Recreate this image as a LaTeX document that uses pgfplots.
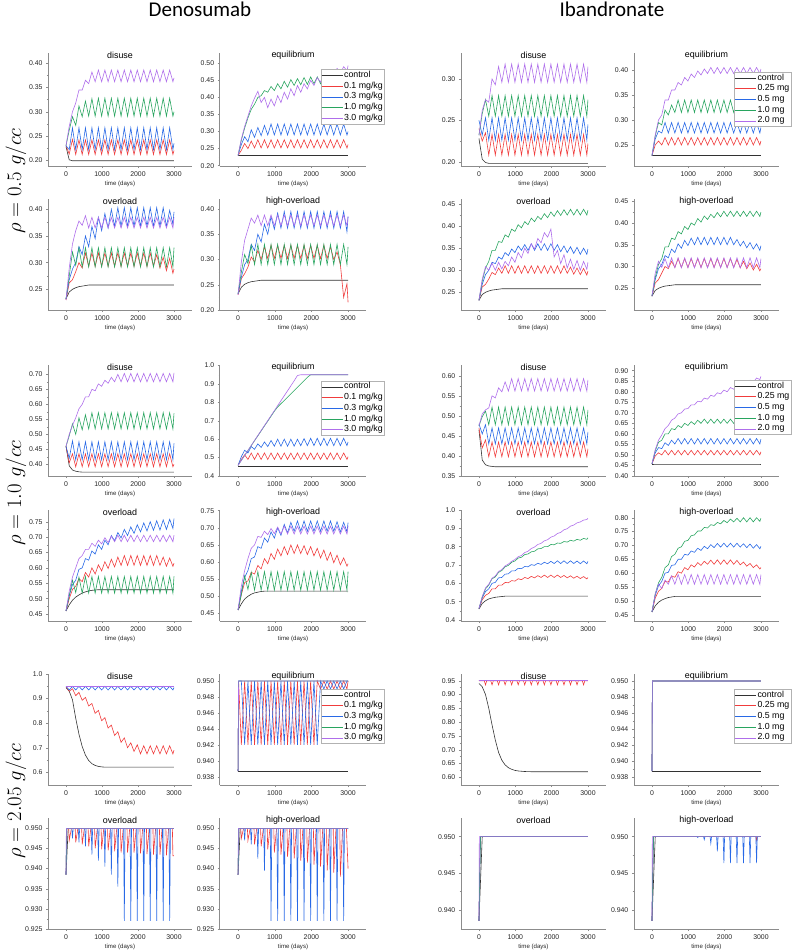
\documentclass[border=0pt]{standalone}
\usepackage{fontspec}
\setmainfont{Liberation Sans}
\newfontfamily\carlito{Carlito}
\usepackage{pgfplots}
\usepackage{pgfplotstable}
\pgfplotsset{compat=1.18}
\definecolor{cC}{RGB}{50,50,50}
\definecolor{cR}{RGB}{240,60,60}
\definecolor{cB}{RGB}{40,105,230}
\definecolor{cG}{RGB}{40,165,95}
\definecolor{cP}{RGB}{175,110,235}
\newcommand{\LF}{\fontsize{8.8}{10}\selectfont}
\pgfplotsset{
  every axis plot post/.append style={legend image code/.code={\draw[##1,line width=0.6pt] (0pt,0pt)--(21pt,0pt);}},
  sub/.style={
    scale only axis, height=111pt,
    xmin=-500, xmax=3500, xtick={0,1000,2000,3000},
    minor x tick num=1, minor y tick num=1,
    axis x line=bottom, axis y line=left,
    axis line style={-, black!45, line width=0.5pt},
    tick style={black!45, line width=0.4pt},
    major tick length=2pt, minor tick length=1.2pt, tick align=outside,
    tick label style={font=\fontsize{6.9}{8}\selectfont, text=black!85},
    /pgf/number format/assume math mode=true,
    scaled x ticks=false, scaled y ticks=false,
    x tick label style={/pgf/number format/1000 sep={}},
    y tick label style={/pgf/number format/fixed, /pgf/number format/fixed zerofill, /pgf/number format/precision=2},
    xlabel={time (days)},
    xlabel style={font=\fontsize{6.1}{7}\selectfont, at={(axis description cs:0.5,0)}, anchor=center, yshift=-17.5pt, text=black!85},
    every axis title/.style={at={(0.5,1)}, anchor=center, yshift=-2pt, font=\fontsize{8.9}{10}\selectfont},
    every axis plot/.append style={line width=0.6pt, mark=none},
  },
  prec/.style={y tick label style={/pgf/number format/precision=#1}},
  leg/.style 2 args={
    every axis legend/.style={at={(#1,#2)}, anchor=north west, draw=black!30, fill=white,
      font=\LF, inner sep=0.5pt,
      nodes={inner sep=1.2pt, text height=6.3pt, text depth=2pt}},
    legend cell align=left,
  },
}
\newcommand{\fiveplots}[1]{%
 \addplot[cC] table[x=t,y=c]{#1};
 \addplot[cR] table[x=t,y=a]{#1};
 \addplot[cB] table[x=t,y=b]{#1};
 \addplot[cG] table[x=t,y=g]{#1};
 \addplot[cP] table[x=t,y=p]{#1};}
\newcommand{\legD}{\legend{\LF control,\LF 0.1 mg/kg,\LF 0.3 mg/kg,\LF 1.0 mg/kg,\LF 3.0 mg/kg}}
\newcommand{\legI}{\legend{\LF control,\LF 0.25 mg,\LF 0.5 mg,\LF 1.0 mg,\LF 2.0 mg}}

% ---------- rho = 0.5 ----------
\pgfplotstableread{
t c a b g p
0 0.228 0.230 0.230 0.230 0.230
90 0.201 0.213 0.222 0.262 0.270
180 0.199 0.243 0.267 0.290 0.300
270 0.199 0.212 0.222 0.272 0.318
360 0.199 0.242 0.267 0.312 0.345
450 0.199 0.212 0.222 0.290 0.345
540 0.199 0.242 0.267 0.322 0.365
630 0.199 0.212 0.222 0.291 0.358
720 0.199 0.242 0.267 0.327 0.382
810 0.199 0.212 0.222 0.291 0.362
900 0.199 0.242 0.267 0.328 0.386
990 0.199 0.212 0.222 0.291 0.362
1080 0.199 0.242 0.267 0.328 0.386
1170 0.199 0.212 0.222 0.291 0.362
1260 0.199 0.242 0.267 0.328 0.386
1350 0.199 0.212 0.222 0.291 0.362
1440 0.199 0.242 0.267 0.328 0.386
1530 0.199 0.212 0.222 0.291 0.362
1620 0.199 0.242 0.267 0.328 0.386
1710 0.199 0.212 0.222 0.291 0.362
1800 0.199 0.242 0.267 0.328 0.386
1890 0.199 0.212 0.222 0.291 0.362
1980 0.199 0.242 0.267 0.328 0.386
2070 0.199 0.212 0.222 0.291 0.362
2160 0.199 0.242 0.267 0.328 0.386
2250 0.199 0.212 0.222 0.291 0.362
2340 0.199 0.242 0.267 0.328 0.386
2430 0.199 0.212 0.222 0.291 0.362
2520 0.199 0.242 0.267 0.328 0.386
2610 0.199 0.212 0.222 0.291 0.362
2700 0.199 0.242 0.267 0.328 0.386
2790 0.199 0.212 0.222 0.291 0.362
2880 0.199 0.242 0.267 0.328 0.386
2970 0.199 0.212 0.222 0.291 0.362
3000 0.199 0.220 0.235 0.300 0.370
}\tDa
\pgfplotstableread{
t c a b g p
0 0.229 0.230 0.230 0.230 0.230
90 0.229 0.245 0.262 0.275 0.278
180 0.229 0.265 0.285 0.310 0.315
270 0.229 0.250 0.270 0.340 0.345
360 0.229 0.272 0.305 0.365 0.375
450 0.229 0.252 0.283 0.380 0.398
540 0.229 0.276 0.312 0.400 0.418
630 0.229 0.252 0.288 0.405 0.385
720 0.229 0.276 0.318 0.420 0.400
810 0.229 0.252 0.290 0.415 0.370
900 0.229 0.276 0.322 0.432 0.395
990 0.229 0.252 0.290 0.420 0.375
1080 0.229 0.276 0.322 0.440 0.405
1170 0.229 0.252 0.290 0.425 0.385
1260 0.229 0.276 0.322 0.447 0.415
1350 0.229 0.252 0.290 0.430 0.395
1440 0.229 0.276 0.322 0.452 0.425
1530 0.229 0.252 0.290 0.435 0.405
1620 0.229 0.276 0.322 0.455 0.435
1710 0.229 0.252 0.290 0.437 0.415
1800 0.229 0.276 0.322 0.458 0.440
1890 0.229 0.252 0.290 0.438 0.425
1980 0.229 0.276 0.322 0.460 0.450
2070 0.229 0.252 0.290 0.440 0.435
2160 0.229 0.276 0.322 0.460 0.458
2250 0.229 0.252 0.290 0.440 0.445
2340 0.229 0.276 0.322 0.460 0.468
2430 0.229 0.252 0.290 0.440 0.455
2520 0.229 0.276 0.322 0.460 0.475
2610 0.229 0.252 0.290 0.440 0.465
2700 0.229 0.276 0.322 0.460 0.485
2790 0.229 0.252 0.290 0.440 0.470
2880 0.229 0.276 0.322 0.460 0.490
2970 0.229 0.252 0.290 0.440 0.478
3000 0.229 0.262 0.300 0.448 0.493
}\tDb
\pgfplotstableread{
t c a b g p
0 0.228 0.240 0.250 0.232 0.232
90 0.203 0.225 0.232 0.258 0.262
180 0.199 0.235 0.253 0.275 0.275
270 0.198 0.208 0.226 0.255 0.272
360 0.198 0.233 0.253 0.280 0.300
450 0.198 0.208 0.226 0.255 0.293
540 0.198 0.233 0.253 0.280 0.315
630 0.198 0.208 0.226 0.255 0.296
720 0.198 0.233 0.253 0.280 0.318
810 0.198 0.208 0.226 0.255 0.296
900 0.198 0.233 0.253 0.280 0.318
990 0.198 0.208 0.226 0.255 0.296
1080 0.198 0.233 0.253 0.280 0.318
1170 0.198 0.208 0.226 0.255 0.296
1260 0.198 0.233 0.253 0.280 0.318
1350 0.198 0.208 0.226 0.255 0.296
1440 0.198 0.233 0.253 0.280 0.318
1530 0.198 0.208 0.226 0.255 0.296
1620 0.198 0.233 0.253 0.280 0.318
1710 0.198 0.208 0.226 0.255 0.296
1800 0.198 0.233 0.253 0.280 0.318
1890 0.198 0.208 0.226 0.255 0.296
1980 0.198 0.233 0.253 0.280 0.318
2070 0.198 0.208 0.226 0.255 0.296
2160 0.198 0.233 0.253 0.280 0.318
2250 0.198 0.208 0.226 0.255 0.296
2340 0.198 0.233 0.253 0.280 0.318
2430 0.198 0.208 0.226 0.255 0.296
2520 0.198 0.233 0.253 0.280 0.318
2610 0.198 0.208 0.226 0.255 0.296
2700 0.198 0.233 0.253 0.280 0.318
2790 0.198 0.208 0.226 0.255 0.296
2880 0.198 0.233 0.253 0.280 0.318
2970 0.198 0.208 0.226 0.255 0.296
3000 0.198 0.222 0.245 0.275 0.315
}\tIa
\pgfplotstableread{
t c a b g p
0 0.229 0.229 0.229 0.229 0.229
90 0.229 0.250 0.262 0.268 0.270
180 0.229 0.258 0.278 0.295 0.300
270 0.229 0.250 0.274 0.290 0.310
360 0.229 0.265 0.295 0.320 0.340
450 0.229 0.250 0.274 0.310 0.340
540 0.229 0.265 0.295 0.330 0.360
630 0.229 0.250 0.274 0.315 0.360
720 0.229 0.265 0.295 0.340 0.375
810 0.229 0.250 0.274 0.315 0.370
900 0.229 0.265 0.295 0.340 0.385
990 0.229 0.250 0.274 0.315 0.378
1080 0.229 0.265 0.295 0.340 0.392
1170 0.229 0.250 0.274 0.315 0.385
1260 0.229 0.265 0.295 0.340 0.398
1350 0.229 0.250 0.274 0.315 0.390
1440 0.229 0.265 0.295 0.340 0.402
1530 0.229 0.250 0.274 0.315 0.393
1620 0.229 0.265 0.295 0.340 0.405
1710 0.229 0.250 0.274 0.315 0.393
1800 0.229 0.265 0.295 0.340 0.405
1890 0.229 0.250 0.274 0.315 0.393
1980 0.229 0.265 0.295 0.340 0.405
2070 0.229 0.250 0.274 0.315 0.393
2160 0.229 0.265 0.295 0.340 0.405
2250 0.229 0.250 0.274 0.315 0.393
2340 0.229 0.265 0.295 0.340 0.405
2430 0.229 0.250 0.274 0.315 0.393
2520 0.229 0.265 0.295 0.340 0.405
2610 0.229 0.250 0.274 0.315 0.393
2700 0.229 0.265 0.295 0.340 0.405
2790 0.229 0.250 0.274 0.315 0.393
2880 0.229 0.265 0.295 0.340 0.405
2970 0.229 0.250 0.274 0.315 0.393
3000 0.229 0.258 0.285 0.330 0.402
}\tIb
\pgfplotstableread{
t c a b g p
0 0.232 0.230 0.232 0.232 0.230
90 0.245 0.262 0.268 0.275 0.290
180 0.250 0.268 0.288 0.320 0.335
270 0.253 0.283 0.300 0.295 0.360
360 0.255 0.300 0.330 0.328 0.378
450 0.256 0.290 0.315 0.292 0.370
540 0.257 0.318 0.350 0.328 0.388
630 0.258 0.293 0.330 0.292 0.365
720 0.258 0.318 0.368 0.328 0.385
810 0.258 0.293 0.345 0.292 0.365
900 0.258 0.318 0.385 0.328 0.385
990 0.258 0.293 0.360 0.292 0.365
1080 0.258 0.318 0.392 0.328 0.385
1170 0.258 0.293 0.365 0.292 0.365
1260 0.258 0.318 0.400 0.328 0.385
1350 0.258 0.293 0.368 0.292 0.365
1440 0.258 0.318 0.403 0.328 0.385
1530 0.258 0.293 0.368 0.292 0.365
1620 0.258 0.318 0.403 0.328 0.385
1710 0.258 0.293 0.368 0.292 0.365
1800 0.258 0.318 0.403 0.328 0.385
1890 0.258 0.293 0.368 0.292 0.365
1980 0.258 0.318 0.403 0.328 0.385
2070 0.258 0.293 0.368 0.292 0.365
2160 0.258 0.318 0.403 0.328 0.385
2250 0.258 0.293 0.368 0.292 0.365
2340 0.258 0.318 0.403 0.328 0.385
2430 0.258 0.293 0.368 0.292 0.365
2520 0.258 0.315 0.403 0.328 0.385
2610 0.258 0.290 0.368 0.292 0.365
2700 0.258 0.310 0.403 0.328 0.385
2790 0.258 0.285 0.368 0.292 0.365
2880 0.258 0.308 0.398 0.328 0.385
2970 0.258 0.280 0.372 0.292 0.365
3000 0.258 0.288 0.395 0.328 0.385
}\tDc
\pgfplotstableread{
t c a b g p
0 0.232 0.230 0.232 0.232 0.230
90 0.245 0.262 0.265 0.275 0.295
180 0.251 0.272 0.290 0.310 0.338
270 0.254 0.285 0.300 0.292 0.360
360 0.256 0.305 0.330 0.328 0.382
450 0.257 0.295 0.318 0.290 0.372
540 0.258 0.318 0.350 0.330 0.388
630 0.259 0.300 0.335 0.290 0.367
720 0.259 0.325 0.370 0.330 0.388
810 0.259 0.302 0.350 0.290 0.367
900 0.259 0.328 0.385 0.330 0.388
990 0.259 0.302 0.360 0.290 0.367
1080 0.259 0.328 0.392 0.330 0.388
1170 0.259 0.302 0.362 0.290 0.367
1260 0.259 0.328 0.395 0.330 0.388
1350 0.259 0.302 0.362 0.290 0.367
1440 0.259 0.328 0.395 0.330 0.388
1530 0.259 0.302 0.362 0.290 0.367
1620 0.259 0.328 0.395 0.330 0.388
1710 0.259 0.302 0.362 0.290 0.367
1800 0.259 0.328 0.395 0.330 0.388
1890 0.259 0.302 0.362 0.290 0.367
1980 0.259 0.328 0.395 0.330 0.388
2070 0.259 0.302 0.362 0.290 0.367
2160 0.259 0.328 0.395 0.330 0.388
2250 0.259 0.302 0.362 0.290 0.367
2340 0.259 0.328 0.395 0.330 0.388
2430 0.259 0.302 0.362 0.290 0.367
2520 0.259 0.325 0.395 0.330 0.388
2610 0.259 0.300 0.362 0.290 0.367
2700 0.259 0.315 0.395 0.330 0.388
2790 0.259 0.290 0.362 0.290 0.367
2880 0.259 0.225 0.395 0.330 0.388
2970 0.259 0.252 0.355 0.290 0.367
3000 0.259 0.215 0.385 0.325 0.385
}\tDd
\pgfplotstableread{
t c a b g p
0 0.232 0.232 0.232 0.232 0.232
90 0.245 0.262 0.268 0.275 0.280
180 0.250 0.268 0.290 0.305 0.308
270 0.253 0.280 0.300 0.320 0.300
360 0.255 0.295 0.318 0.345 0.316
450 0.256 0.290 0.315 0.345 0.300
540 0.257 0.305 0.330 0.365 0.318
630 0.258 0.293 0.325 0.363 0.303
720 0.258 0.310 0.340 0.380 0.320
810 0.258 0.293 0.333 0.375 0.310
900 0.258 0.310 0.348 0.393 0.330
990 0.258 0.293 0.340 0.388 0.318
1080 0.258 0.310 0.355 0.403 0.340
1170 0.258 0.293 0.345 0.396 0.328
1260 0.258 0.310 0.358 0.410 0.350
1350 0.258 0.293 0.345 0.403 0.338
1440 0.258 0.310 0.360 0.418 0.360
1530 0.258 0.293 0.345 0.410 0.348
1620 0.258 0.310 0.360 0.422 0.372
1710 0.258 0.293 0.345 0.415 0.362
1800 0.258 0.310 0.360 0.428 0.385
1890 0.258 0.293 0.345 0.419 0.375
1980 0.258 0.310 0.360 0.432 0.393
2070 0.258 0.293 0.345 0.422 0.330
2160 0.258 0.310 0.358 0.435 0.345
2250 0.258 0.293 0.342 0.424 0.315
2340 0.258 0.310 0.355 0.437 0.335
2430 0.258 0.293 0.340 0.425 0.305
2520 0.258 0.307 0.353 0.438 0.325
2610 0.258 0.291 0.338 0.425 0.302
2700 0.258 0.305 0.352 0.438 0.322
2790 0.258 0.290 0.336 0.425 0.300
2880 0.258 0.304 0.350 0.438 0.320
2970 0.258 0.289 0.336 0.425 0.302
3000 0.258 0.298 0.348 0.436 0.318
}\tIc
\pgfplotstableread{
t c a b g p
0 0.232 0.232 0.232 0.232 0.232
90 0.245 0.262 0.270 0.275 0.285
180 0.250 0.270 0.295 0.305 0.312
270 0.253 0.285 0.305 0.318 0.298
360 0.255 0.300 0.325 0.345 0.318
450 0.256 0.295 0.320 0.345 0.297
540 0.257 0.312 0.340 0.365 0.320
630 0.258 0.298 0.332 0.362 0.297
720 0.258 0.318 0.352 0.380 0.320
810 0.258 0.298 0.342 0.375 0.297
900 0.258 0.318 0.360 0.392 0.320
990 0.258 0.298 0.348 0.385 0.297
1080 0.258 0.318 0.365 0.400 0.320
1170 0.258 0.298 0.350 0.395 0.297
1260 0.258 0.318 0.367 0.410 0.320
1350 0.258 0.298 0.350 0.402 0.297
1440 0.258 0.318 0.367 0.416 0.320
1530 0.258 0.298 0.350 0.408 0.297
1620 0.258 0.318 0.367 0.420 0.320
1710 0.258 0.298 0.350 0.412 0.297
1800 0.258 0.318 0.367 0.424 0.320
1890 0.258 0.298 0.350 0.414 0.297
1980 0.258 0.318 0.367 0.427 0.320
2070 0.258 0.298 0.350 0.415 0.297
2160 0.258 0.318 0.367 0.427 0.320
2250 0.258 0.298 0.350 0.415 0.297
2340 0.258 0.316 0.362 0.427 0.320
2430 0.258 0.297 0.347 0.415 0.297
2520 0.258 0.312 0.358 0.427 0.320
2610 0.258 0.295 0.343 0.415 0.297
2700 0.258 0.308 0.355 0.427 0.320
2790 0.258 0.292 0.340 0.415 0.297
2880 0.258 0.305 0.352 0.427 0.320
2970 0.258 0.290 0.337 0.415 0.297
3000 0.258 0.295 0.348 0.425 0.318
}\tId
% ---------- rho = 1.0 ----------
\pgfplotstableread{
t c a b g p
0 0.460 0.460 0.460 0.460 0.460
90 0.395 0.405 0.420 0.495 0.500
180 0.381 0.435 0.478 0.535 0.530
270 0.377 0.392 0.415 0.500 0.555
360 0.375 0.435 0.475 0.555 0.585
450 0.374 0.392 0.415 0.515 0.600
540 0.374 0.435 0.475 0.565 0.625
630 0.374 0.392 0.415 0.518 0.625
720 0.374 0.435 0.475 0.572 0.650
810 0.374 0.392 0.415 0.518 0.645
900 0.374 0.435 0.475 0.572 0.668
990 0.374 0.392 0.415 0.518 0.660
1080 0.374 0.435 0.475 0.572 0.680
1170 0.374 0.392 0.415 0.518 0.670
1260 0.374 0.435 0.475 0.572 0.690
1350 0.374 0.392 0.415 0.518 0.675
1440 0.374 0.435 0.475 0.572 0.700
1530 0.374 0.392 0.415 0.518 0.675
1620 0.374 0.435 0.475 0.572 0.703
1710 0.374 0.392 0.415 0.518 0.675
1800 0.374 0.435 0.475 0.572 0.703
1890 0.374 0.392 0.415 0.518 0.675
1980 0.374 0.435 0.475 0.572 0.703
2070 0.374 0.392 0.415 0.518 0.675
2160 0.374 0.435 0.475 0.572 0.703
2250 0.374 0.392 0.415 0.518 0.675
2340 0.374 0.435 0.475 0.572 0.703
2430 0.374 0.392 0.415 0.518 0.675
2520 0.374 0.435 0.475 0.572 0.703
2610 0.374 0.392 0.415 0.518 0.675
2700 0.374 0.435 0.475 0.572 0.703
2790 0.374 0.392 0.415 0.518 0.675
2880 0.374 0.435 0.475 0.572 0.703
2970 0.374 0.392 0.415 0.518 0.675
3000 0.374 0.400 0.470 0.570 0.705
}\tDe
\pgfplotstableread{
t c a b g p
0 0.455 0.458 0.458 0.458 0.458
90 0.455 0.490 0.505 0.485 0.485
180 0.455 0.515 0.540 0.512 0.512
270 0.455 0.490 0.525 0.538 0.539
360 0.455 0.525 0.560 0.565 0.566
450 0.455 0.490 0.545 0.592 0.593
540 0.455 0.525 0.575 0.618 0.620
630 0.455 0.490 0.555 0.645 0.647
720 0.455 0.525 0.585 0.672 0.674
810 0.455 0.490 0.560 0.698 0.701
900 0.455 0.525 0.593 0.725 0.728
990 0.455 0.490 0.562 0.752 0.755
1080 0.455 0.525 0.600 0.775 0.782
1170 0.455 0.490 0.562 0.793 0.809
1260 0.455 0.525 0.600 0.810 0.836
1350 0.455 0.490 0.562 0.828 0.863
1440 0.455 0.525 0.600 0.846 0.890
1530 0.455 0.490 0.562 0.864 0.917
1620 0.455 0.525 0.600 0.882 0.946
1710 0.455 0.490 0.565 0.900 0.950
1800 0.455 0.525 0.603 0.918 0.950
1890 0.455 0.490 0.565 0.936 0.950
1980 0.455 0.525 0.605 0.950 0.950
2070 0.455 0.490 0.565 0.950 0.950
2160 0.455 0.525 0.605 0.950 0.950
2250 0.455 0.490 0.565 0.950 0.950
2340 0.455 0.525 0.605 0.950 0.950
2430 0.455 0.490 0.565 0.950 0.950
2520 0.455 0.525 0.605 0.950 0.950
2610 0.455 0.490 0.565 0.950 0.950
2700 0.455 0.525 0.605 0.950 0.950
2790 0.455 0.490 0.565 0.950 0.950
2880 0.455 0.525 0.605 0.950 0.950
2970 0.455 0.490 0.565 0.950 0.950
3000 0.455 0.505 0.585 0.950 0.950
}\tDf
\pgfplotstableread{
t c a b g p
0 0.465 0.470 0.480 0.475 0.475
90 0.390 0.420 0.455 0.498 0.505
180 0.378 0.440 0.478 0.512 0.515
270 0.375 0.398 0.430 0.478 0.520
360 0.374 0.435 0.470 0.522 0.550
450 0.373 0.398 0.430 0.478 0.545
540 0.373 0.435 0.470 0.522 0.570
630 0.373 0.398 0.430 0.478 0.560
720 0.373 0.435 0.470 0.522 0.585
810 0.373 0.398 0.430 0.478 0.562
900 0.373 0.435 0.470 0.522 0.593
990 0.373 0.398 0.430 0.478 0.562
1080 0.373 0.435 0.470 0.522 0.593
1170 0.373 0.398 0.430 0.478 0.562
1260 0.373 0.435 0.470 0.522 0.593
1350 0.373 0.398 0.430 0.478 0.562
1440 0.373 0.435 0.470 0.522 0.593
1530 0.373 0.398 0.430 0.478 0.562
1620 0.373 0.435 0.470 0.522 0.593
1710 0.373 0.398 0.430 0.478 0.562
1800 0.373 0.435 0.470 0.522 0.593
1890 0.373 0.398 0.430 0.478 0.562
1980 0.373 0.435 0.470 0.522 0.593
2070 0.373 0.398 0.430 0.478 0.562
2160 0.373 0.435 0.470 0.522 0.593
2250 0.373 0.398 0.430 0.478 0.562
2340 0.373 0.435 0.470 0.522 0.593
2430 0.373 0.398 0.430 0.478 0.562
2520 0.373 0.435 0.470 0.522 0.593
2610 0.373 0.398 0.430 0.478 0.562
2700 0.373 0.435 0.470 0.522 0.593
2790 0.373 0.398 0.430 0.478 0.562
2880 0.373 0.435 0.470 0.522 0.593
2970 0.373 0.398 0.430 0.478 0.562
3000 0.373 0.418 0.460 0.515 0.590
}\tIe
\pgfplotstableread{
t c a b g p
0 0.457 0.458 0.458 0.458 0.458
90 0.457 0.495 0.510 0.520 0.525
180 0.457 0.510 0.535 0.560 0.570
270 0.457 0.500 0.530 0.570 0.595
360 0.457 0.522 0.558 0.600 0.625
450 0.457 0.500 0.545 0.600 0.640
540 0.457 0.522 0.570 0.625 0.665
630 0.457 0.500 0.552 0.620 0.675
720 0.457 0.522 0.578 0.640 0.695
810 0.457 0.500 0.552 0.630 0.700
900 0.457 0.522 0.578 0.650 0.718
990 0.457 0.500 0.552 0.640 0.720
1080 0.457 0.522 0.578 0.658 0.738
1170 0.457 0.500 0.552 0.645 0.738
1260 0.457 0.522 0.578 0.665 0.755
1350 0.457 0.500 0.552 0.650 0.752
1440 0.457 0.522 0.578 0.670 0.770
1530 0.457 0.500 0.552 0.650 0.765
1620 0.457 0.522 0.578 0.670 0.783
1710 0.457 0.500 0.552 0.650 0.778
1800 0.457 0.522 0.578 0.670 0.795
1890 0.457 0.500 0.552 0.650 0.790
1980 0.457 0.522 0.578 0.670 0.808
2070 0.457 0.500 0.552 0.650 0.800
2160 0.457 0.522 0.578 0.670 0.820
2250 0.457 0.500 0.552 0.650 0.812
2340 0.457 0.522 0.578 0.670 0.832
2430 0.457 0.500 0.552 0.650 0.822
2520 0.457 0.522 0.578 0.670 0.845
2610 0.457 0.500 0.552 0.650 0.835
2700 0.457 0.522 0.578 0.670 0.855
2790 0.457 0.500 0.552 0.650 0.845
2880 0.457 0.522 0.578 0.670 0.865
2970 0.457 0.500 0.552 0.650 0.858
3000 0.457 0.515 0.575 0.662 0.873
}\tIf
\pgfplotstableread{
t c a b g p
0 0.460 0.460 0.460 0.460 0.460
90 0.480 0.500 0.510 0.510 0.525
180 0.495 0.530 0.545 0.560 0.570
270 0.505 0.540 0.560 0.520 0.600
360 0.512 0.565 0.595 0.570 0.630
450 0.518 0.555 0.600 0.518 0.640
540 0.522 0.585 0.630 0.572 0.660
630 0.525 0.570 0.625 0.518 0.660
720 0.527 0.600 0.655 0.572 0.680
810 0.528 0.580 0.645 0.518 0.670
900 0.529 0.610 0.675 0.572 0.690
990 0.529 0.590 0.660 0.518 0.678
1080 0.529 0.620 0.690 0.572 0.698
1170 0.529 0.598 0.675 0.518 0.682
1260 0.529 0.628 0.705 0.572 0.703
1350 0.529 0.603 0.688 0.518 0.685
1440 0.529 0.635 0.715 0.572 0.706
1530 0.529 0.608 0.697 0.518 0.685
1620 0.529 0.640 0.725 0.572 0.706
1710 0.529 0.608 0.705 0.518 0.685
1800 0.529 0.640 0.733 0.572 0.706
1890 0.529 0.608 0.712 0.518 0.685
1980 0.529 0.640 0.740 0.572 0.706
2070 0.529 0.608 0.717 0.518 0.685
2160 0.529 0.640 0.746 0.572 0.706
2250 0.529 0.608 0.720 0.518 0.685
2340 0.529 0.640 0.750 0.572 0.706
2430 0.529 0.608 0.722 0.518 0.685
2520 0.529 0.640 0.753 0.572 0.706
2610 0.529 0.608 0.723 0.518 0.685
2700 0.529 0.635 0.756 0.572 0.706
2790 0.529 0.605 0.725 0.518 0.685
2880 0.529 0.632 0.758 0.572 0.706
2970 0.529 0.605 0.728 0.518 0.685
3000 0.529 0.615 0.760 0.572 0.706
}\tDg
\pgfplotstableread{
t c a b g p
0 0.460 0.460 0.460 0.460 0.460
90 0.478 0.505 0.515 0.505 0.530
180 0.492 0.540 0.555 0.560 0.575
270 0.500 0.545 0.575 0.520 0.610
360 0.506 0.570 0.610 0.570 0.640
450 0.510 0.565 0.615 0.518 0.650
540 0.512 0.590 0.645 0.572 0.675
630 0.514 0.580 0.640 0.518 0.672
720 0.515 0.610 0.670 0.572 0.690
810 0.515 0.595 0.658 0.518 0.680
900 0.515 0.625 0.688 0.572 0.698
990 0.515 0.608 0.670 0.518 0.683
1080 0.515 0.638 0.700 0.572 0.702
1170 0.515 0.618 0.678 0.518 0.682
1260 0.515 0.645 0.710 0.572 0.705
1350 0.515 0.622 0.685 0.518 0.682
1440 0.515 0.650 0.716 0.572 0.705
1530 0.515 0.625 0.690 0.518 0.682
1620 0.515 0.650 0.720 0.572 0.705
1710 0.515 0.625 0.690 0.518 0.682
1800 0.515 0.648 0.720 0.572 0.705
1890 0.515 0.622 0.690 0.518 0.682
1980 0.515 0.645 0.720 0.572 0.705
2070 0.515 0.618 0.690 0.518 0.682
2160 0.515 0.640 0.720 0.572 0.705
2250 0.515 0.612 0.690 0.518 0.682
2340 0.515 0.635 0.720 0.572 0.705
2430 0.515 0.605 0.690 0.518 0.682
2520 0.515 0.628 0.720 0.572 0.705
2610 0.515 0.598 0.690 0.518 0.682
2700 0.515 0.620 0.718 0.572 0.705
2790 0.515 0.592 0.688 0.518 0.682
2880 0.515 0.612 0.716 0.572 0.705
2970 0.515 0.588 0.688 0.518 0.682
3000 0.515 0.595 0.715 0.572 0.705
}\tDh
\pgfplotstableread{
t c a b g p
0 0.460 0.462 0.462 0.462 0.462
90 0.490 0.510 0.520 0.525 0.528
180 0.505 0.535 0.555 0.570 0.575
270 0.515 0.545 0.570 0.590 0.595
360 0.520 0.570 0.600 0.625 0.628
450 0.524 0.570 0.605 0.635 0.640
540 0.526 0.590 0.630 0.660 0.665
630 0.528 0.590 0.632 0.670 0.675
720 0.530 0.605 0.650 0.690 0.695
810 0.530 0.603 0.652 0.698 0.705
900 0.530 0.615 0.668 0.715 0.720
990 0.530 0.612 0.668 0.722 0.730
1080 0.530 0.625 0.682 0.738 0.745
1170 0.530 0.620 0.680 0.742 0.752
1260 0.530 0.632 0.692 0.757 0.768
1350 0.530 0.626 0.690 0.760 0.775
1440 0.530 0.638 0.702 0.772 0.790
1530 0.530 0.630 0.698 0.775 0.798
1620 0.530 0.642 0.710 0.788 0.812
1710 0.530 0.632 0.703 0.790 0.818
1800 0.530 0.645 0.715 0.800 0.832
1890 0.530 0.632 0.707 0.800 0.838
1980 0.530 0.645 0.720 0.812 0.852
2070 0.530 0.632 0.708 0.810 0.858
2160 0.530 0.645 0.723 0.820 0.872
2250 0.530 0.632 0.708 0.818 0.878
2340 0.530 0.643 0.723 0.828 0.892
2430 0.530 0.630 0.708 0.825 0.898
2520 0.530 0.641 0.723 0.835 0.912
2610 0.530 0.628 0.708 0.830 0.918
2700 0.530 0.639 0.722 0.840 0.930
2790 0.530 0.626 0.707 0.835 0.935
2880 0.530 0.637 0.722 0.845 0.945
2970 0.530 0.624 0.707 0.840 0.948
3000 0.530 0.632 0.720 0.848 0.955
}\tIg
\pgfplotstableread{
t c a b g p
0 0.460 0.460 0.460 0.460 0.460
90 0.482 0.510 0.520 0.525 0.525
180 0.495 0.535 0.555 0.565 0.560
270 0.503 0.545 0.570 0.585 0.545
360 0.508 0.570 0.600 0.620 0.575
450 0.512 0.568 0.603 0.630 0.560
540 0.514 0.590 0.628 0.660 0.590
630 0.516 0.585 0.630 0.668 0.560
720 0.516 0.605 0.650 0.690 0.595
810 0.516 0.600 0.650 0.695 0.560
900 0.516 0.620 0.668 0.715 0.595
990 0.516 0.612 0.665 0.718 0.560
1080 0.516 0.630 0.680 0.735 0.595
1170 0.516 0.622 0.675 0.738 0.560
1260 0.516 0.638 0.690 0.752 0.595
1350 0.516 0.628 0.682 0.752 0.560
1440 0.516 0.643 0.697 0.765 0.595
1530 0.516 0.632 0.688 0.763 0.560
1620 0.516 0.647 0.703 0.775 0.595
1710 0.516 0.632 0.692 0.772 0.560
1800 0.516 0.648 0.707 0.783 0.595
1890 0.516 0.632 0.694 0.778 0.560
1980 0.516 0.648 0.708 0.790 0.595
2070 0.516 0.632 0.694 0.782 0.560
2160 0.516 0.648 0.708 0.795 0.595
2250 0.516 0.632 0.694 0.785 0.560
2340 0.516 0.646 0.708 0.798 0.595
2430 0.516 0.630 0.694 0.785 0.560
2520 0.516 0.640 0.706 0.800 0.595
2610 0.516 0.625 0.692 0.785 0.560
2700 0.516 0.635 0.705 0.800 0.595
2790 0.516 0.620 0.690 0.785 0.560
2880 0.516 0.630 0.703 0.800 0.595
2970 0.516 0.615 0.688 0.787 0.560
3000 0.516 0.620 0.697 0.798 0.595
}\tIh
% ---------- rho = 2.05 ----------
\pgfplotstableread{
t c a b g p
0 0.945 0.948 0.950 0.950 0.950
90 0.930 0.930 0.935 0.950 0.950
180 0.895 0.940 0.950 0.950 0.950
270 0.820 0.912 0.935 0.950 0.950
360 0.755 0.925 0.950 0.950 0.950
450 0.705 0.893 0.935 0.950 0.950
540 0.670 0.905 0.950 0.950 0.950
630 0.648 0.870 0.935 0.950 0.950
720 0.635 0.880 0.950 0.950 0.950
810 0.628 0.840 0.935 0.950 0.950
900 0.624 0.852 0.950 0.950 0.950
990 0.622 0.810 0.935 0.950 0.950
1080 0.621 0.822 0.950 0.950 0.950
1170 0.621 0.780 0.935 0.950 0.950
1260 0.621 0.792 0.950 0.950 0.950
1350 0.621 0.750 0.935 0.950 0.950
1440 0.621 0.765 0.950 0.950 0.950
1530 0.621 0.722 0.935 0.950 0.950
1620 0.621 0.740 0.950 0.950 0.950
1710 0.621 0.700 0.935 0.950 0.950
1800 0.621 0.720 0.950 0.950 0.950
1890 0.621 0.685 0.935 0.950 0.950
1980 0.621 0.712 0.950 0.950 0.950
2070 0.621 0.675 0.935 0.950 0.950
2160 0.621 0.708 0.950 0.950 0.950
2250 0.621 0.675 0.935 0.950 0.950
2340 0.621 0.708 0.950 0.950 0.950
2430 0.621 0.675 0.935 0.950 0.950
2520 0.621 0.708 0.950 0.950 0.950
2610 0.621 0.675 0.935 0.950 0.950
2700 0.621 0.708 0.950 0.950 0.950
2790 0.621 0.675 0.935 0.950 0.950
2880 0.621 0.708 0.950 0.950 0.950
2970 0.621 0.675 0.935 0.950 0.950
3000 0.621 0.690 0.945 0.950 0.950
}\tDi

\begin{document}
\begin{tikzpicture}
\useasboundingbox (0pt,0pt) rectangle (793pt,-951pt);
\node[anchor=base, font=\carlito\fontsize{21}{24}\selectfont] at (200pt,-16.7pt) {Denosumab};
\node[anchor=base, font=\carlito\fontsize{21}{24}\selectfont] at (612pt,-16.7pt) {Ibandronate};
\node[rotate=90, font=\fontsize{22}{26}\selectfont] at (16pt,-181pt) {$\rho = 0.5\ g/cc$};
\node[rotate=90, font=\fontsize{22}{26}\selectfont] at (16pt,-493pt) {$\rho = 1.0\ g/cc$};
\node[rotate=90, font=\fontsize{22}{26}\selectfont] at (16pt,-801pt) {$\rho = 2.05\ g/cc$};

% ================= ROW 1 =================
\begin{axis}[sub, width=144pt, height=113pt, at={(48pt,-166pt)}, anchor=south west, title={disuse},
  ymin=0.1882, ymax=0.4212, ytick={0.20,0.25,0.30,0.35,0.40}]
\fiveplots{\tDa}
\end{axis}
\begin{axis}[sub, leg={0.688}{0.855}, width=146.7pt, height=113pt, at={(219.7pt,-166pt)}, anchor=south west, title={equilibrium},
  ymin=0.1991, ymax=0.530, ytick={0.20,0.25,0.30,0.35,0.40,0.45,0.50}]
\fiveplots{\tDb}
\legD
\end{axis}
\begin{axis}[sub, width=145.3pt, height=113pt, at={(460.8pt,-166pt)}, anchor=south west, title={disuse},
  ymin=0.1948, ymax=0.3314, ytick={0.20,0.25,0.30}]
\fiveplots{\tIa}
\end{axis}
\begin{axis}[sub, leg={0.690}{0.832}, width=145.3pt, height=113pt, at={(633.8pt,-166pt)}, anchor=south west, title={equilibrium},
  ymin=0.208, ymax=0.434, ytick={0.25,0.30,0.35,0.40}]
\fiveplots{\tIb}
\legI
\end{axis}

% ================= ROW 2 =================
\begin{axis}[sub, width=144pt, at={(48pt,-310pt)}, anchor=south west, title={overload},
  ymin=0.2112, ymax=0.4193, ytick={0.25,0.30,0.35,0.40}]
\fiveplots{\tDc}
\end{axis}
\begin{axis}[sub, width=146.7pt, at={(219.7pt,-310pt)}, anchor=south west, title={high-overload},
  ymin=0.200, ymax=0.4198, ytick={0.20,0.25,0.30,0.35,0.40}]
\fiveplots{\tDd}
\end{axis}
\begin{axis}[sub, width=145.3pt, at={(460.8pt,-310pt)}, anchor=south west, title={overload},
  ymin=0.2099, ymax=0.4613, ytick={0.25,0.30,0.35,0.40,0.45}]
\fiveplots{\tIc}
\end{axis}
\begin{axis}[sub, width=145.3pt, at={(633.8pt,-310pt)}, anchor=south west, title={high-overload},
  ymin=0.2001, ymax=0.455, ytick={0.25,0.30,0.35,0.40,0.45}]
\fiveplots{\tId}
\end{axis}

% ================= ROW 3 =================
\begin{axis}[sub, width=144pt, at={(48pt,-476pt)}, anchor=south west, title={disuse},
  ymin=0.361, ymax=0.731, ytick={0.40,0.45,0.50,0.55,0.60,0.65,0.70}]
\fiveplots{\tDe}
\end{axis}
\begin{axis}[sub, prec=1, leg={0.688}{0.858}, width=146.7pt, at={(219.7pt,-476pt)}, anchor=south west, title={equilibrium},
  ymin=0.4, ymax=1.003, ytick={0.4,0.5,0.6,0.7,0.8,0.9,1.0}]
\fiveplots{\tDf}
\legD
\end{axis}
\begin{axis}[sub, width=145.3pt, at={(460.8pt,-476pt)}, anchor=south west, title={disuse},
  ymin=0.35, ymax=0.627, ytick={0.35,0.40,0.45,0.50,0.55,0.60}]
\fiveplots{\tIe}
\end{axis}
\begin{axis}[sub, leg={0.690}{0.865}, width=145.3pt, at={(633.8pt,-476pt)}, anchor=south west, title={equilibrium},
  ymin=0.40, ymax=0.927, ytick={0.40,0.45,0.50,0.55,0.60,0.65,0.70,0.75,0.80,0.85,0.90}]
\fiveplots{\tIf}
\legI
\end{axis}

% ================= ROW 4 =================
\begin{axis}[sub, width=144pt, at={(48pt,-621pt)}, anchor=south west, title={overload},
  ymin=0.4273, ymax=0.788, ytick={0.45,0.50,0.55,0.60,0.65,0.70,0.75}]
\fiveplots{\tDg}
\end{axis}
\begin{axis}[sub, width=146.7pt, at={(219.7pt,-621pt)}, anchor=south west, title={high-overload},
  ymin=0.4278, ymax=0.752, ytick={0.45,0.50,0.55,0.60,0.65,0.70,0.75}]
\fiveplots{\tDh}
\end{axis}
\begin{axis}[sub, prec=1, width=145.3pt, at={(460.8pt,-621pt)}, anchor=south west, title={overload},
  ymin=0.3945, ymax=1.0, ytick={0.4,0.5,0.6,0.7,0.8,0.9,1.0}]
\fiveplots{\tIg}
\end{axis}
\begin{axis}[sub, width=145.3pt, at={(633.8pt,-621pt)}, anchor=south west, title={high-overload},
  ymin=0.4273, ymax=0.8278, ytick={0.45,0.50,0.55,0.60,0.65,0.70,0.75,0.80}]
\fiveplots{\tIh}
\end{axis}

% ================= ROW 5 =================
\begin{axis}[sub, prec=1, width=144pt, at={(48pt,-785pt)}, anchor=south west, title={disuse},
  ymin=0.5483, ymax=1.0, ytick={0.6,0.7,0.8,0.9,1.0}]
\fiveplots{\tDi}
\end{axis}
\begin{axis}[sub, prec=3, leg={0.688}{0.865}, width=146.7pt, at={(219.7pt,-785pt)}, anchor=south west, title={equilibrium},
  ymin=0.93696, ymax=0.95088, ytick={0.938,0.940,0.942,0.944,0.946,0.948,0.950}]
\addplot[cC] coordinates {(0,0.9387)(3000,0.9387)};
\addplot[cR] coordinates {(0,0.9387)(15,0.95)(90,0.942)(180,0.95)(270,0.942)(360,0.95)(450,0.942)(540,0.95)(630,0.942)(720,0.95)(810,0.942)(900,0.95)(990,0.942)(1080,0.95)(1170,0.942)(1260,0.95)(1350,0.942)(1440,0.95)(1530,0.942)(1620,0.95)(1710,0.942)(1800,0.95)(1890,0.942)(1980,0.95)(2070,0.942)(2160,0.95)(2250,0.949)(2340,0.95)(2430,0.949)(2520,0.95)(2610,0.949)(2700,0.95)(2790,0.949)(2880,0.95)(2970,0.949)(3000,0.95)};
\addplot[cB] coordinates {(0,0.9387)(15,0.95)(90,0.95)(180,0.942)(270,0.95)(360,0.942)(450,0.95)(540,0.942)(630,0.95)(720,0.942)(810,0.95)(900,0.942)(990,0.95)(1080,0.942)(1170,0.95)(1260,0.942)(1350,0.95)(1440,0.942)(1530,0.95)(1620,0.942)(1710,0.95)(1800,0.942)(1890,0.95)(1980,0.942)(2070,0.95)(2160,0.942)(2250,0.95)(2340,0.949)(2430,0.95)(2520,0.949)(2610,0.95)(2700,0.949)(2790,0.95)(2880,0.949)(2970,0.95)(3000,0.95)};
\addplot[cG] coordinates {(0,0.9387)(15,0.95)(3000,0.95)};
\addplot[cP] coordinates {(0,0.9387)(15,0.95)(3000,0.95)};
\legD
\end{axis}
\begin{axis}[sub, width=145.3pt, at={(460.8pt,-785pt)}, anchor=south west, title={disuse},
  ymin=0.5721, ymax=0.9743, ytick={0.60,0.65,0.70,0.75,0.80,0.85,0.90,0.95}]
\addplot[cC] coordinates {(0,0.940)(90,0.928)(180,0.900)(270,0.850)(360,0.790)(450,0.735)(540,0.690)(630,0.662)(720,0.645)(810,0.635)(900,0.629)(990,0.625)(1080,0.623)(1260,0.621)(1500,0.620)(3000,0.620)};
\addplot[cR] coordinates {(0,0.95)(145,0.95)(180,0.935)(215,0.95)(325,0.95)(360,0.935)(395,0.95)(505,0.95)(540,0.935)(575,0.95)(685,0.95)(720,0.935)(755,0.95)(865,0.95)(900,0.935)(935,0.95)(1045,0.95)(1080,0.935)(1115,0.95)(1225,0.95)(1260,0.935)(1295,0.95)(1405,0.95)(1440,0.935)(1475,0.95)(1585,0.95)(1620,0.935)(1655,0.95)(1765,0.95)(1800,0.935)(1835,0.95)(1945,0.95)(1980,0.935)(2015,0.95)(2125,0.95)(2160,0.935)(2195,0.95)(2305,0.95)(2340,0.935)(2375,0.95)(2485,0.95)(2520,0.935)(2555,0.95)(2665,0.95)(2700,0.935)(2735,0.95)(2845,0.95)(2880,0.935)(2915,0.95)(3000,0.95)};
\addplot[cB] coordinates {(0,0.95)(3000,0.95)};
\addplot[cG] coordinates {(0,0.95)(3000,0.95)};
\addplot[cP] coordinates {(0,0.95)(3000,0.95)};
\end{axis}
\begin{axis}[sub, prec=3, leg={0.690}{0.865}, width=145.3pt, at={(633.8pt,-785pt)}, anchor=south west, title={equilibrium},
  ymin=0.93696, ymax=0.95088, ytick={0.938,0.940,0.942,0.944,0.946,0.948,0.950}]
\addplot[cC] coordinates {(0,0.9387)(3000,0.9387)};
\addplot[cR] coordinates {(0,0.9387)(12,0.95)(3000,0.95)};
\addplot[cB] coordinates {(0,0.9387)(12,0.95)(3000,0.95)};
\addplot[cG] coordinates {(0,0.9387)(12,0.95)(3000,0.95)};
\addplot[cP] coordinates {(0,0.9387)(12,0.95)(3000,0.95)};
\legI
\end{axis}

% ================= ROW 6 =================
\begin{axis}[sub, prec=3, width=144pt, at={(48pt,-929pt)}, anchor=south west, title={overload},
  ymin=0.925, ymax=0.95256, ytick={0.925,0.930,0.935,0.940,0.945,0.950}]
\addplot[cC] coordinates {(0,0.9385)(60,0.95)(3000,0.95)};
\addplot[cR] coordinates {(0,0.9385)(20,0.95)(75,0.95)(90,0.947)(150,0.95)(255,0.95)(270,0.9465)(330,0.95)(435,0.95)(450,0.946)(510,0.95)(615,0.95)(630,0.9455)(690,0.95)(795,0.95)(810,0.945)(870,0.95)(975,0.95)(990,0.9448)(1050,0.95)(1155,0.95)(1170,0.9445)(1230,0.95)(1335,0.95)(1350,0.9443)(1410,0.95)(1515,0.95)(1530,0.944)(1590,0.95)(1695,0.95)(1710,0.944)(1770,0.95)(1875,0.95)(1890,0.944)(1950,0.95)(2055,0.95)(2070,0.9438)(2130,0.95)(2235,0.95)(2250,0.9436)(2310,0.95)(2415,0.95)(2430,0.9435)(2490,0.95)(2595,0.95)(2610,0.9435)(2670,0.95)(2775,0.95)(2790,0.9433)(2850,0.95)(2955,0.95)(2970,0.9432)(3000,0.9432)};
\addplot[cB] coordinates {(0,0.9385)(20,0.95)(160,0.95)(180,0.9475)(200,0.95)(340,0.95)(360,0.9465)(380,0.95)(520,0.95)(540,0.9455)(560,0.95)(700,0.95)(720,0.9435)(740,0.95)(880,0.95)(900,0.942)(920,0.95)(1060,0.95)(1080,0.9405)(1100,0.95)(1240,0.95)(1260,0.9385)(1280,0.95)(1420,0.95)(1440,0.9355)(1460,0.95)(1600,0.95)(1620,0.927)(1640,0.95)(1780,0.95)(1800,0.927)(1820,0.95)(1960,0.95)(1980,0.927)(2000,0.95)(2140,0.95)(2160,0.927)(2180,0.95)(2320,0.95)(2340,0.927)(2360,0.95)(2500,0.95)(2520,0.927)(2540,0.95)(2680,0.95)(2700,0.927)(2720,0.95)(2860,0.95)(2880,0.927)(2900,0.95)(3000,0.95)};
\addplot[cG] coordinates {(0,0.9385)(20,0.95)(3000,0.95)};
\addplot[cP] coordinates {(0,0.9385)(10,0.95)(3000,0.95)};
\end{axis}
\begin{axis}[sub, prec=3, width=146.7pt, at={(219.7pt,-929pt)}, anchor=south west, title={high-overload},
  ymin=0.925, ymax=0.95256, ytick={0.925,0.930,0.935,0.940,0.945,0.950}]
\addplot[cC] coordinates {(0,0.9385)(60,0.95)(3000,0.95)};
\addplot[cR] coordinates {(0,0.9385)(20,0.95)(75,0.95)(90,0.9475)(150,0.95)(255,0.95)(270,0.947)(330,0.95)(435,0.95)(450,0.946)(510,0.95)(615,0.95)(630,0.9455)(690,0.95)(795,0.95)(810,0.9448)(870,0.95)(975,0.95)(990,0.944)(1050,0.95)(1155,0.95)(1170,0.9435)(1230,0.95)(1335,0.95)(1350,0.943)(1410,0.95)(1515,0.95)(1530,0.9425)(1590,0.95)(1695,0.95)(1710,0.942)(1770,0.95)(1875,0.95)(1890,0.9415)(1950,0.95)(2055,0.95)(2070,0.941)(2130,0.95)(2235,0.95)(2250,0.9405)(2310,0.95)(2415,0.95)(2430,0.9395)(2490,0.95)(2595,0.95)(2610,0.939)(2670,0.95)(2775,0.95)(2790,0.938)(2850,0.95)(2955,0.95)(3000,0.940)};
\addplot[cB] coordinates {(0,0.9385)(20,0.95)(160,0.95)(180,0.947)(200,0.95)(340,0.95)(360,0.946)(380,0.95)(520,0.95)(540,0.9425)(560,0.95)(700,0.95)(720,0.9395)(740,0.95)(880,0.95)(900,0.927)(920,0.95)(1060,0.95)(1080,0.927)(1100,0.95)(1240,0.95)(1260,0.927)(1280,0.95)(1420,0.95)(1440,0.927)(1460,0.95)(1600,0.95)(1620,0.927)(1640,0.95)(1780,0.95)(1800,0.927)(1820,0.95)(1960,0.95)(1980,0.927)(2000,0.95)(2140,0.95)(2160,0.927)(2180,0.95)(2320,0.95)(2340,0.927)(2360,0.95)(2500,0.95)(2520,0.927)(2540,0.95)(2680,0.95)(2700,0.927)(2720,0.95)(2860,0.95)(2880,0.927)(2900,0.95)(3000,0.95)};
\addplot[cG] coordinates {(0,0.9385)(20,0.95)(3000,0.95)};
\addplot[cP] coordinates {(0,0.9385)(10,0.95)(3000,0.95)};
\end{axis}
\begin{axis}[sub, prec=3, width=145.3pt, at={(460.8pt,-929pt)}, anchor=south west, title={overload},
  ymin=0.9374, ymax=0.95255, ytick={0.940,0.945,0.950}]
\addplot[cC] coordinates {(0,0.9385)(90,0.95)(3000,0.95)};
\addplot[cR] coordinates {(0,0.9385)(40,0.95)(3000,0.95)};
\addplot[cB] coordinates {(0,0.9385)(40,0.95)(3000,0.95)};
\addplot[cG] coordinates {(0,0.9385)(40,0.95)(3000,0.95)};
\addplot[cP] coordinates {(0,0.9385)(10,0.95)(3000,0.95)};
\end{axis}
\begin{axis}[sub, prec=3, width=145.3pt, at={(633.8pt,-929pt)}, anchor=south west, title={high-overload},
  ymin=0.9374, ymax=0.95255, ytick={0.940,0.945,0.950}]
\addplot[cC] coordinates {(0,0.9385)(90,0.95)(3000,0.95)};
\addplot[cR] coordinates {(0,0.9385)(40,0.95)(2860,0.95)(2880,0.9495)(2900,0.95)(3000,0.95)};
\addplot[cB] coordinates {(0,0.9385)(40,0.95)(1240,0.95)(1260,0.9499)(1280,0.95)(1420,0.95)(1440,0.9496)(1460,0.95)(1600,0.95)(1620,0.9491)(1640,0.95)(1780,0.95)(1800,0.948)(1820,0.95)(1960,0.95)(1980,0.9464)(2000,0.95)(2140,0.95)(2160,0.9464)(2180,0.95)(2320,0.95)(2340,0.9464)(2360,0.95)(2500,0.95)(2520,0.9464)(2540,0.95)(2680,0.95)(2700,0.9464)(2720,0.95)(2860,0.95)(2880,0.9464)(2900,0.95)(3000,0.95)};
\addplot[cG] coordinates {(0,0.9385)(40,0.95)(3000,0.95)};
\addplot[cP] coordinates {(0,0.9385)(10,0.95)(3000,0.95)};
\end{axis}
\end{tikzpicture}
\end{document}
